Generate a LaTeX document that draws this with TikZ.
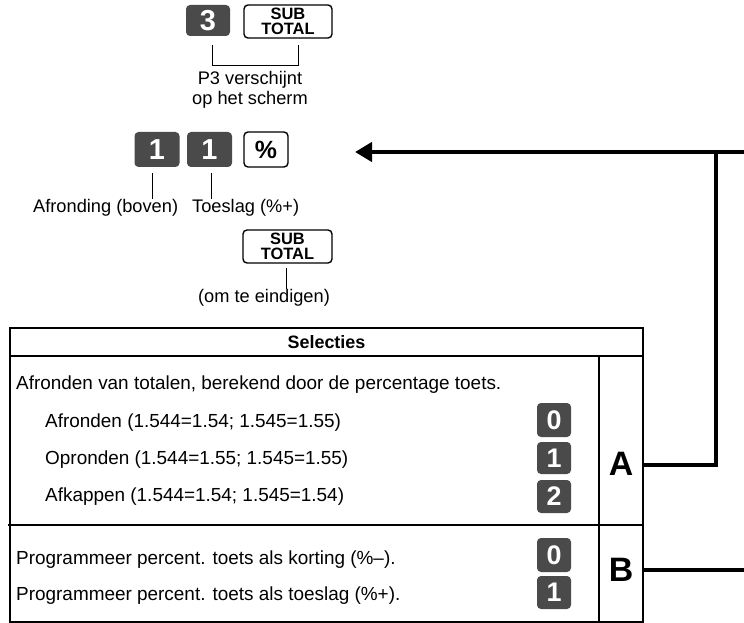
\documentclass[tikz,border=0pt]{standalone}
\usepackage{fontspec}
\setmainfont{Liberation Sans}
\usetikzlibrary{arrows.meta}
\definecolor{keygray}{HTML}{4A4A4A}
\begin{document}
\begin{tikzpicture}[x=1bp,y=-1bp,
  darkkey/.style={fill=keygray, rounded corners=4bp, text=white, inner sep=0pt,
    minimum width=45bp, minimum height=33bp, font=\fontsize{29}{29}\selectfont\bfseries},
  tablekey/.style={darkkey, minimum width=34bp, minimum height=33bp, font=\fontsize{27}{27}\selectfont\bfseries},
  whitekey/.style={draw=black, line width=1.4bp, rounded corners=4bp, inner sep=0pt,
    minimum height=33bp, fill=white},
  subtext/.style={align=center, font=\fontsize{16.5}{15}\selectfont\bfseries},
  lbl/.style={inner sep=0pt, font=\fontsize{19}{20}\selectfont},
  toplbl/.style={inner sep=0pt, font=\fontsize{18.3}{20}\selectfont},
  tick/.style={line width=0.9bp},
  flow/.style={line width=4.5bp, line join=miter},
  frame/.style={line width=1.5bp},
  letter/.style={inner sep=0pt, font=\fontsize{34}{34}\selectfont\bfseries}
]
\useasboundingbox (0,0) rectangle (744,623);

% --- step 1
\node[darkkey, minimum width=44bp, minimum height=31bp] (k3) at (208,20.5) {3};
\node[whitekey, minimum width=88bp] (sub1) at (288,21.5) {};
\node[subtext] (sub1t) at (sub1.center) {SUB\\TOTAL};
\coordinate (b3) at (212,45);
\coordinate (bs) at (298,45);
\draw[tick] (b3) -- ++(0,20) -| (bs);
\node[toplbl, align=center] (p3) at (250,90) {P3 verschijnt\\op het scherm};

% --- step 2
\node[darkkey, minimum height=35bp] (k1a) at (157,149.5) {1};
\node[darkkey, minimum height=35bp] (k1b) at (209.5,149.5) {1};
\node[whitekey, minimum width=44bp, minimum height=35bp, font=\fontsize{25}{25}\selectfont\bfseries] (kp) at (266,149.5) {\%};
\node[toplbl, anchor=west] (afr) at (33,208) {Afronding (boven)};
\node[toplbl, anchor=west] (toe) at (192,208) {Toeslag (\%+)};
\coordinate (t1a) at (152,173);
\coordinate (t1b) at (211,173);
\draw[tick] (t1a) -- (t1a |- afr.north);
\draw[tick] (t1b) -- (t1b |- toe.north);

% --- step 3
\node[whitekey, minimum width=89bp] (sub2) at (287.5,246.5) {};
\node[subtext] (sub2t) at (sub2.center) {SUB\\TOTAL};
\node[toplbl] (end) at (264,298) {(om te eindigen)};
\coordinate (t2) at (286,268);
\draw[tick] (t2) -- (t2 |- end.north);

% --- table
\draw[frame] (10,328) rectangle (643,622);
\draw[frame] (10,356) -- (643,356);
\draw[frame] (599,356) -- (599,622);
\draw[frame] (8,525) -- (643,525);
\node[inner sep=0pt, font=\fontsize{18}{18}\selectfont\bfseries] (sel) at (326.5,342) {Selecties};

\node[lbl, anchor=west] (r0) at (16,385) {Afronden van totalen, berekend door de percentage toets.};
\node[lbl, anchor=west] (r1) at (45,423) {Afronden (1.544=1.54; 1.545=1.55)};
\node[lbl, anchor=west] (r2) at (45,460) {Opronden (1.544=1.55; 1.545=1.55)};
\node[lbl, anchor=west] (r3) at (45,497) {Afkappen (1.544=1.54; 1.545=1.54)};
\node[lbl, anchor=west] (r4) at (16,560) {Programmeer percent. toets als korting (\%–).};
\node[lbl, anchor=west] (r5) at (16,596) {Programmeer percent. toets als toeslag (\%+).};

\node[tablekey, minimum height=34bp] (a0) at (554,420) {0};
\node[tablekey, minimum height=32bp] (a1) at (554,458) {1};
\node[tablekey, minimum height=33bp] (a2) at (554,496.5) {2};
\node[tablekey, minimum height=34bp] (b0) at (554,555) {0};
\node[tablekey, minimum height=33bp] (b1) at (554,592.5) {1};

\node[letter] (A) at (621,464) {A};
\node[letter] (B) at (621,570) {B};

% --- flow lines
\coordinate (ain) at (643,465);
\coordinate (bin) at (643,570);
\coordinate (topR) at (744,152);
\coordinate (jn) at (716,152);
\coordinate (tip) at (355,152);
\coordinate (bR) at (744,570);
\draw[flow, -{Triangle[length=17bp,width=19bp]}] (topR) -- (tip);
\draw[flow] (jn) |- (ain);
\draw[flow] (bin) -- (bR);
\end{tikzpicture}
\end{document}
